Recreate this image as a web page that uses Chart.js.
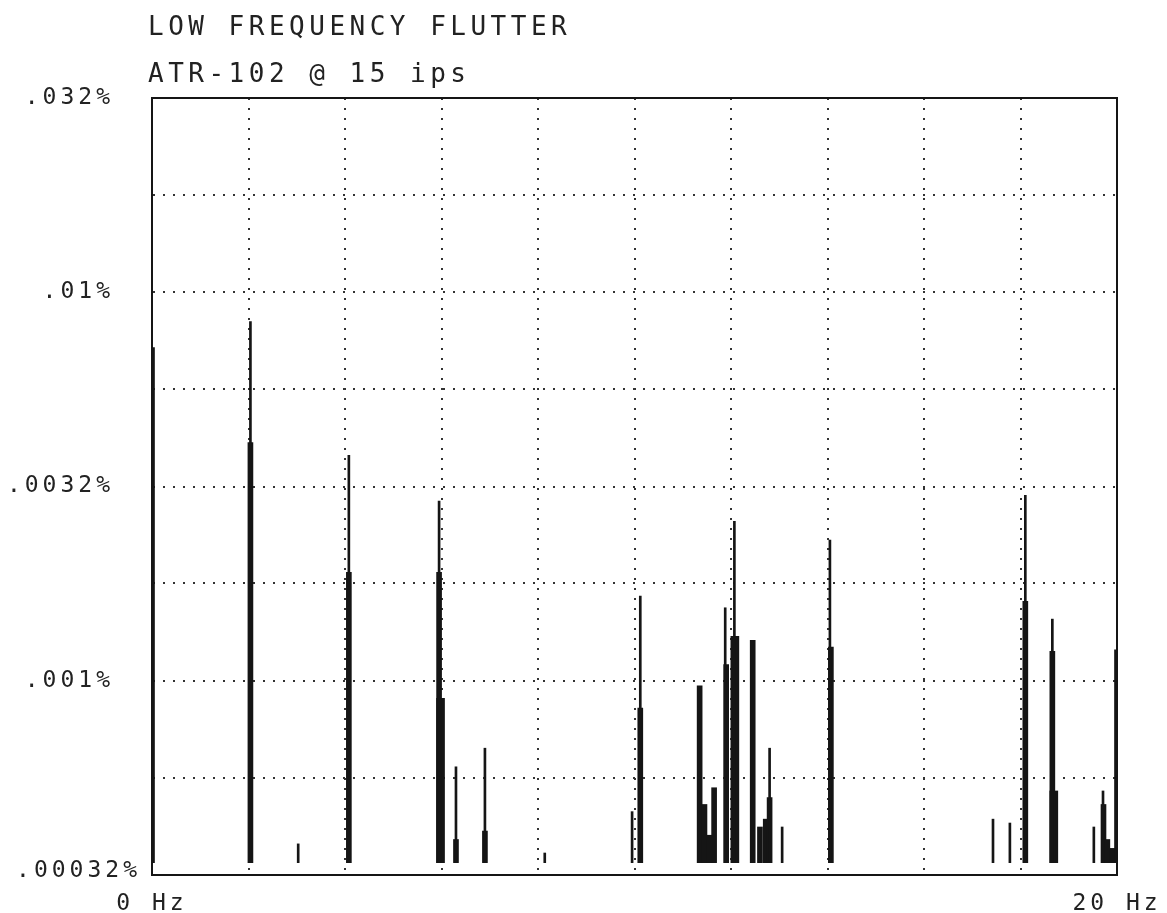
<!DOCTYPE html>
<html>
<head>
<meta charset="utf-8">
<script src="https://cdn.jsdelivr.net/npm/chart.js@4/dist/chart.umd.min.js"></script>
<style>
  body { margin: 0; background: #fff; }
</style>
</head>
<body>
<canvas id="flutter" width="1167" height="913"></canvas>
<script>
// low frequency flutter spectrum, percent vs Hz

const titleText = "LOW FREQUENCY FLUTTER";
const subtitleText = "ATR-102 @ 15 ips";

// thin peak tips
const peakHz  = [2.04, 3.03, 4.08, 5.95, 6.30, 6.90, 8.14, 9.95, 10.12, 11.88, 12.07, 12.80, 13.06, 14.05, 17.43, 17.78, 18.10, 18.66, 19.52, 19.71];
const peakPct = [0.0084, 0.00038, 0.0038, 0.0029, 0.0006, 0.00067, 0.00036, 0.00046, 0.00165, 0.00154, 0.00257, 0.00067, 0.00042, 0.0023, 0.00044, 0.00043, 0.0030, 0.00144, 0.00042, 0.00052];

// heavy lines
const lineHz  = [0, 2.04, 4.08, 5.95, 6.30, 6.90, 10.12, 11.35, 11.45, 11.55, 11.65, 11.90, 12.45, 12.60, 12.72, 12.80, 14.07, 18.10, 18.66, 19.72, 19.80, 19.90, 20];
const linePct = [0.0072, 0.0041, 0.0019, 0.0019, 0.00039, 0.00041, 0.00085, 0.00097, 0.00048, 0.0004, 0.00053, 0.0011, 0.00127, 0.00042, 0.00044, 0.0005, 0.00122, 0.0016, 0.00119, 0.00048, 0.00039, 0.00037, 0.0012];

// wide blocks
const wideHz  = [5.98, 12.08, 18.69];
const widePct = [0.0009, 0.0013, 0.00052];

const xTicks = [0, 20];
const xTickLabels = ["0 Hz", "20 Hz"];
const yGrid = [0.000316, 0.000562, 0.001, 0.00178, 0.00316, 0.00562, 0.01, 0.0178, 0.0316];
const yTickLabels = [".00032%", "", ".001%", "", ".0032%", "", ".01%", "", ".032%"];

const FLOOR = 0.00034;
const INK = "#151515";
const FONT = "'DejaVu Sans Mono', 'Liberation Mono', monospace";

function pts(xs, ys) {
    return xs.map((x, i) => ({ x: x, y: ys[i] }));
}

const plotterText = {
    id: "plotterText",
    beforeDraw(chart) {
        chart.ctx.letterSpacing = "4px";
    },
    afterDraw(chart) {
        const ctx = chart.ctx;
        const a = chart.chartArea;
        ctx.save();
        ctx.setLineDash([]);
        ctx.strokeStyle = INK;
        ctx.lineWidth = 2;
        ctx.strokeRect(a.left, a.top, a.right - a.left, a.bottom - a.top);
        ctx.fillStyle = "#222";
        ctx.font = "26px " + FONT;
        ctx.letterSpacing = "4.5px";
        ctx.textAlign = "left";
        ctx.textBaseline = "alphabetic";
        ctx.fillText(titleText, 148, 35);
        ctx.fillText(subtitleText, 148, 82);
        // the plotter puts the bottom label closer to the frame than the others
        ctx.font = "23px " + FONT;
        ctx.letterSpacing = "4px";
        ctx.textAlign = "right";
        ctx.textBaseline = "middle";
        ctx.fillText(yTickLabels[0], a.left - 11, chart.scales.y.getPixelForValue(yGrid[0]) - 4);
        ctx.restore();
    }
};

new Chart(document.getElementById("flutter"), {
    type: "bar",
    data: {
        datasets: [
            { data: pts(peakHz, peakPct), barThickness: 2, backgroundColor: INK, grouped: false, base: FLOOR },
            { data: pts(lineHz, linePct), barThickness: 5, backgroundColor: INK, grouped: false, base: FLOOR },
            { data: pts(wideHz, widePct), barThickness: 8, backgroundColor: INK, grouped: false, base: FLOOR }
        ]
    },
    options: {
        responsive: false,
        animation: false,
        devicePixelRatio: 1,
        layout: { padding: { top: 98, right: 50, left: 0, bottom: 0 } },
        plugins: { legend: { display: false }, tooltip: { enabled: false } },
        scales: {
            x: {
                type: "linear",
                min: 0,
                max: 20,
                offset: false,
                ticks: {
                    stepSize: 2,
                    autoSkip: false,
                    maxRotation: 0,
                    padding: 0,
                    color: "#222",
                    font: { family: FONT, size: 23 },
                    callback: (v) => {
                        const i = xTicks.indexOf(v);
                        return i >= 0 ? xTickLabels[i] : "";
                    }
                },
                grid: { offset: false, color: "#333", lineWidth: 2, drawTicks: true, tickLength: 15, tickColor: "rgba(0,0,0,0)" },
                border: { display: true, color: INK, width: 2, dash: [2, 8] },
                afterFit: (s) => { s.height = 38; }
            },
            y: {
                type: "logarithmic",
                bounds: "data",
                min: yGrid[0],
                max: yGrid[yGrid.length - 1],
                afterBuildTicks: (s) => {
                    s.ticks = yGrid.map(v => ({ value: v }));
                    s.min = yGrid[0];
                    s.max = yGrid[yGrid.length - 1];
                },
                ticks: {
                    autoSkip: false,
                    padding: 2,
                    color: "#222",
                    font: { family: FONT, size: 23 },
                    // bottom label is drawn by the plugin
                    callback: (v, i) => (i === 0 ? "" : yTickLabels[i])
                },
                grid: { color: "#333", lineWidth: 2, drawTicks: true, tickLength: 36, tickColor: "rgba(0,0,0,0)" },
                border: { display: true, color: INK, width: 2, dash: [2, 8] },
                afterFit: (s) => {
                    s.width = 152;
                    s.paddingTop = 0;
                    s.paddingBottom = 0;
                }
            }
        }
    },
    plugins: [plotterText]
});
</script>
</body>
</html>
